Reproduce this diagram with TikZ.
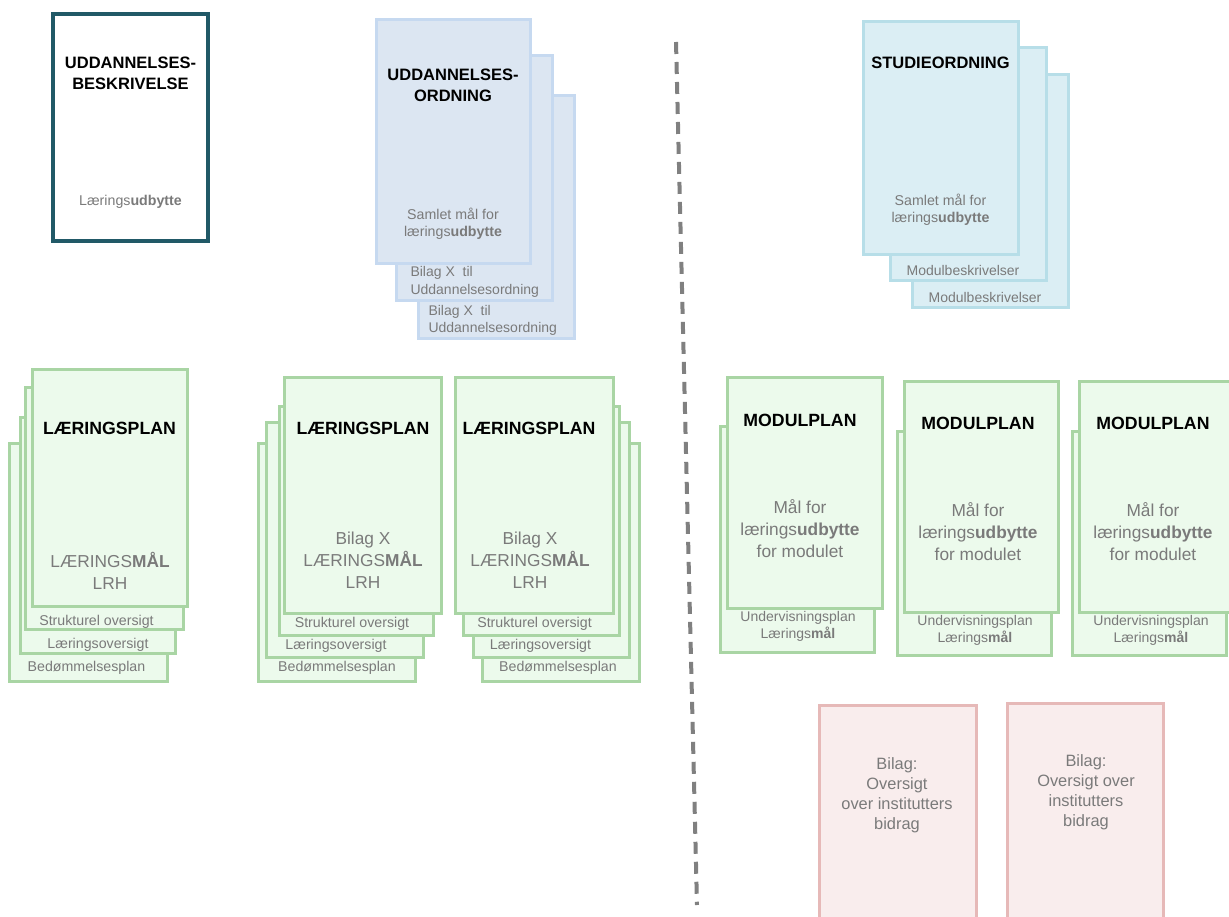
\documentclass[tikz,border=0pt]{standalone}
\usepackage{fontspec}
\setmainfont{Liberation Sans}

\definecolor{ubline}{HTML}{215967}
\definecolor{uofill}{HTML}{DCE6F2}
\definecolor{uoline}{HTML}{C6D9F0}
\definecolor{sofill}{HTML}{DBEEF4}
\definecolor{soline}{HTML}{B7DEE8}
\definecolor{lpfill}{HTML}{ECFAEC}
\definecolor{lpline}{HTML}{A9D5A4}
\definecolor{bfill}{HTML}{F9EDED}
\definecolor{bline}{HTML}{E6B9B8}
\definecolor{txtgrey}{HTML}{7A7A7A}
\definecolor{divgrey}{HTML}{808080}

\begin{document}
\begin{tikzpicture}[x=1pt,y=-1pt,
    sheet/.style={rectangle,inner sep=0pt,outer sep=0pt,line width=3pt},
    ubsheet/.style={sheet,draw=ubline,fill=white,line width=3.5pt},
    uosheet/.style={sheet,draw=uoline,fill=uofill},
    sosheet/.style={sheet,draw=soline,fill=sofill},
    lpsheet/.style={sheet,draw=lpline,fill=lpfill},
    bsheet/.style={sheet,draw=bline,fill=bfill},
    ttl/.style={align=center,font=\bfseries\fontsize{16.5}{21}\selectfont},
    bigttl/.style={align=center,font=\bfseries\fontsize{17.7}{22}\selectfont},
    txt/.style={text=txtgrey,align=center,font=\fontsize{14.2}{17}\selectfont},
    bigtxt/.style={text=txtgrey,align=center,font=\fontsize{17.3}{22}\selectfont},
    btxt/.style={text=txtgrey,align=center,font=\fontsize{16.4}{20}\selectfont}
  ]
    \useasboundingbox (0,0) rectangle (1229,917);
    \clip (0,0) rectangle (1229,917);

    % uddannelsesbeskrivelse
    \node[ubsheet,minimum width=155pt,minimum height=227pt] (ubesk) at (130.5,127.5) {};
    \node[ttl] (ubesk-t) at (130.5,73.5) {UDDANNELSES-\\BESKRIVELSE};
    \node[txt] (ubesk-u) at (130.5,202) {Lærings\textbf{udbytte}};

    % uddannelsesordning
    \node[uosheet,minimum width=156pt,minimum height=243pt] (uord3) at (496,217.5) {};
    \node[uosheet,minimum width=156pt,minimum height=245pt] (uord2) at (474,178.5) {};
    \node[uosheet,minimum width=154pt,minimum height=244pt] (uord1) at (453,142) {};
    \node[ttl] (uord-t) at (453,85.5) {UDDANNELSES-\\ORDNING};
    \node[txt] (uord-u) at (453,223.5) {Samlet mål for\\lærings\textbf{udbytte}};
    \node[txt,align=left,anchor=west,font=\fontsize{14}{18}\selectfont] (uord2-b) at (407,282) {Bilag X\ \ til\\Uddannelsesordning};
    \node[txt,align=left,anchor=west,font=\fontsize{14}{17}\selectfont] (uord3-b) at (425,320) {Bilag X\ \ til\\Uddannelsesordning};

    % studieordning
    \node[sosheet,minimum width=156pt,minimum height=233pt] (sord3) at (990,191.5) {};
    \node[sosheet,minimum width=156pt,minimum height=233pt] (sord2) at (968,164.5) {};
    \node[sosheet,minimum width=155pt,minimum height=233pt] (sord1) at (940.5,138.5) {};
    \node[ttl] (sord-t) at (940.5,63) {STUDIEORDNING};
    \node[txt] (sord-u) at (940.5,209.5) {Samlet mål for\\lærings\textbf{udbytte}};
    \node[txt,font=\fontsize{14}{17}\selectfont] (sord2-m) at (963,270) {Modulbeskrivelser};
    \node[txt,font=\fontsize{14}{17}\selectfont] (sord3-m) at (985,297) {Modulbeskrivelser};

    % laeringsplan 1
    \node[lpsheet,minimum width=158pt,minimum height=238pt] (lpa4) at (88,562) {};
    \node[lpsheet,minimum width=155pt,minimum height=236pt] (lpa3) at (97.5,535) {};
    \node[lpsheet,minimum width=158pt,minimum height=242pt] (lpa2) at (104,508) {};
    \node[lpsheet,minimum width=155pt,minimum height=237pt] (lpa1) at (109.5,487.5) {};
    \node[bigttl] (lpa-t) at (109.5,428) {LÆRINGSPLAN};
    \node[bigtxt] (lpa-m) at (110,570.5) {LÆRINGS\textbf{MÅL}\\LRH};
    \node[txt] (lpa-s) at (96.5,622) {Strukturel oversigt};
    \node[txt] (lpa-l) at (98,645) {Læringsoversigt};
    \node[txt] (lpa-b) at (86.5,668) {Bedømmelsesplan};

    % laeringsplan 2
    \node[lpsheet,minimum width=157pt,minimum height=238pt] (lpb4) at (336.5,562) {};
    \node[lpsheet,minimum width=157pt,minimum height=235pt] (lpb3) at (344.5,539.5) {};
    \node[lpsheet,minimum width=154pt,minimum height=229pt] (lpb2) at (356,520.5) {};
    \node[lpsheet,minimum width=157pt,minimum height=236pt] (lpb1) at (362.5,495) {};
    \node[bigttl] (lpb-t) at (363,428) {LÆRINGSPLAN};
    \node[bigtxt] (lpb-m) at (363,560.5) {Bilag X\\LÆRINGS\textbf{MÅL}\\LRH};
    \node[txt] (lpb-s) at (352,624) {Strukturel oversigt};
    \node[txt] (lpb-l) at (336,646) {Læringsoversigt};
    \node[txt] (lpb-b) at (337,668) {Bedømmelsesplan};

    % laeringsplan 3
    \node[lpsheet,minimum width=157pt,minimum height=238pt] (lpc4) at (560.5,562) {};
    \node[lpsheet,minimum width=156pt,minimum height=235pt] (lpc3) at (551,539.5) {};
    \node[lpsheet,minimum width=156pt,minimum height=229pt] (lpc2) at (541,520.5) {};
    \node[lpsheet,minimum width=158pt,minimum height=236pt] (lpc1) at (534,495) {};
    \node[bigttl] (lpc-t) at (529,428) {LÆRINGSPLAN};
    \node[bigtxt] (lpc-m) at (530,560.5) {Bilag X\\LÆRINGS\textbf{MÅL}\\LRH};
    \node[txt] (lpc-s) at (534.5,624) {Strukturel oversigt};
    \node[txt] (lpc-l) at (540.5,646) {Læringsoversigt};
    \node[txt] (lpc-b) at (558,668) {Bedømmelsesplan};

    % modulplaner
    \node[lpsheet,minimum width=154pt,minimum height=226pt] (mpa2) at (797,539) {};
    \node[lpsheet,minimum width=155pt,minimum height=231pt] (mpa1) at (804.5,492.5) {};
    \node[bigttl] (mpa-t) at (800,420) {MODULPLAN};
    \node[bigtxt] (mpa-m) at (800,529) {Mål for\\lærings\textbf{udbytte}\\for modulet};
    \node[txt,font=\fontsize{14}{17}\selectfont] (mpa-u) at (798,626.5) {Undervisningsplan\\Lærings\textbf{mål}};

    \node[lpsheet,minimum width=154pt,minimum height=224pt] (mpb2) at (974,543) {};
    \node[lpsheet,minimum width=154pt,minimum height=231pt] (mpb1) at (981,496.5) {};
    \node[bigttl] (mpb-t) at (978,423) {MODULPLAN};
    \node[bigtxt] (mpb-m) at (978,532) {Mål for\\lærings\textbf{udbytte}\\for modulet};
    \node[txt,font=\fontsize{14}{17}\selectfont] (mpb-u) at (975,630.5) {Undervisningsplan\\Lærings\textbf{mål}};

    \node[lpsheet,minimum width=154pt,minimum height=224pt] (mpc2) at (1149,543) {};
    \node[lpsheet,minimum width=155pt,minimum height=231pt] (mpc1) at (1156.5,496.5) {};
    \node[bigttl] (mpc-t) at (1153,423) {MODULPLAN};
    \node[bigtxt] (mpc-m) at (1153,532) {Mål for\\lærings\textbf{udbytte}\\for modulet};
    \node[txt,font=\fontsize{14}{17}\selectfont] (mpc-u) at (1151,630.5) {Undervisningsplan\\Lærings\textbf{mål}};

    % bilag
    \node[bsheet,minimum width=157pt,minimum height=295pt] (bila) at (897.5,852.5) {};
    \node[btxt] (bila-t) at (897,795.5) {Bilag:\\Oversigt\\over institutters\\bidrag};
    \node[bsheet,minimum width=156pt,minimum height=297pt] (bilb) at (1085,851.5) {};
    \node[btxt] (bilb-t) at (1086,792.5) {Bilag:\\Oversigt over\\institutters\\bidrag};

    % skillelinje
    \coordinate (divtop) at (676,42);
    \coordinate (divbot) at (697,905);
    \draw[divgrey,line width=4pt,dash pattern=on 12pt off 8pt] (divtop) -- (divbot);
  \end{tikzpicture}
\end{document}
